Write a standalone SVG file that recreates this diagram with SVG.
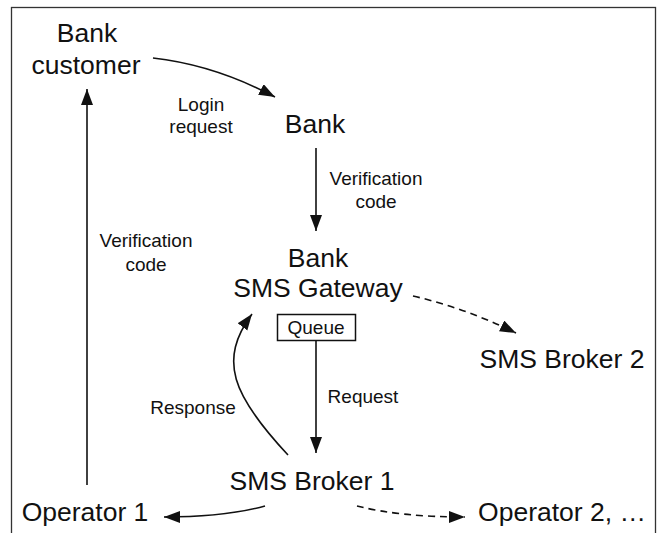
<svg xmlns="http://www.w3.org/2000/svg" width="658" height="533" viewBox="0 0 658 533">
<style>
.big{font-family:"Liberation Sans",Arial,Helvetica,sans-serif;font-size:26.5px;fill:#111;text-anchor:middle}
.lbl{font-family:"Liberation Sans",Arial,Helvetica,sans-serif;font-size:19px;fill:#111;text-anchor:middle}
.ln{fill:none;stroke:#111;stroke-width:1.6}
.dash{stroke-dasharray:7 5}
</style>
<defs>
<marker id="ah" markerUnits="userSpaceOnUse" markerWidth="17" markerHeight="13" refX="16" refY="6" orient="auto">
<path d="M0,0 L16,6 L0,12 z" fill="#111"/>
</marker>
</defs>
<rect x="11.5" y="7.5" width="644" height="540" fill="#fff" stroke="#333" stroke-width="1.3"/>
<g id="connectors">
<path class="ln" d="M153,58 Q215,65 275,97" marker-end="url(#ah)"/>
<path class="ln" d="M316,148 L316,231" marker-end="url(#ah)"/>
<path class="ln dash" d="M413,296 Q465,308 516,333" marker-end="url(#ah)"/>
<path class="ln" d="M316,341 L316,453" marker-end="url(#ah)"/>
<path class="ln" d="M288,455 C232,395 218,360 252,314" marker-end="url(#ah)"/>
<path class="ln" d="M87,485 L87,89" marker-end="url(#ah)"/>
<path class="ln" d="M265,506 Q225,517 164,517" marker-end="url(#ah)"/>
<path class="ln dash" d="M357,506 Q400,517 465,517" marker-end="url(#ah)"/>
<text class="lbl" x="201" y="111">Login</text>
<text class="lbl" x="201" y="133">request</text>
<text class="lbl" x="376" y="185">Verification</text>
<text class="lbl" x="376" y="208">code</text>
<text class="lbl" x="146" y="247">Verification</text>
<text class="lbl" x="146" y="271">code</text>
<text class="lbl" x="363" y="403">Request</text>
<text class="lbl" x="193" y="414">Response</text>
</g>
<g id="bank-customer">
<text class="big" x="87" y="42">Bank</text>
<text class="big" x="86" y="74">customer</text>
</g>
<g id="bank">
<text class="big" x="315" y="133">Bank</text>
</g>
<g id="sms-gateway">
<text class="big" x="318" y="267">Bank</text>
<text class="big" x="318" y="297">SMS Gateway</text>
<rect x="277.5" y="314.5" width="78" height="26" fill="#fff" stroke="#111" stroke-width="1.5"/>
<text class="lbl" x="316" y="334">Queue</text>
</g>
<g id="sms-broker-2">
<text class="big" x="562" y="368">SMS Broker 2</text>
</g>
<g id="sms-broker-1">
<text class="big" x="312" y="490">SMS Broker 1</text>
</g>
<g id="operator-1">
<text class="big" x="85" y="521">Operator 1</text>
</g>
<g id="operator-2">
<text class="big" x="562" y="521">Operator 2, …</text>
</g>
</svg>
